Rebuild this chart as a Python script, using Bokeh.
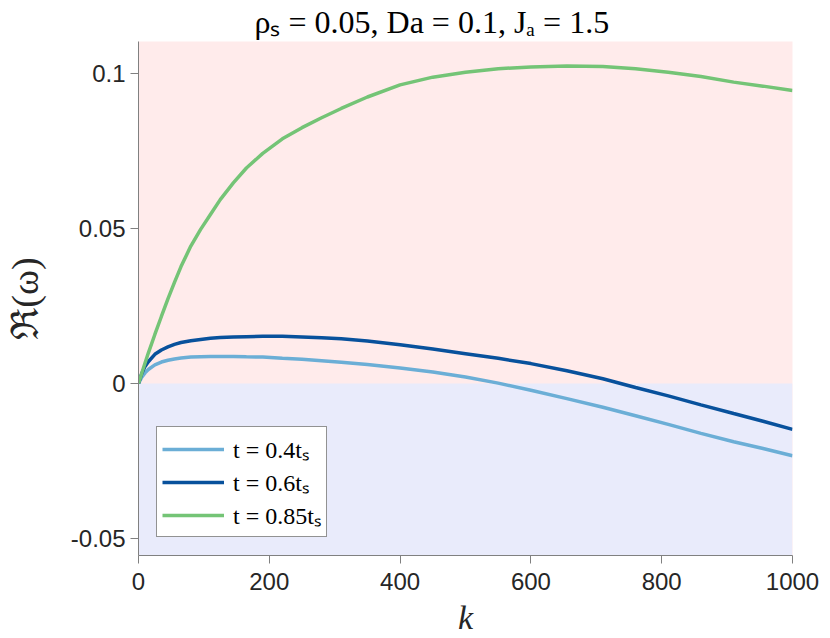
from bokeh.plotting import figure
from bokeh.models import BoxAnnotation, Legend, LegendItem, FixedTicker, Range1d
from bokeh.embed import file_html
from bokeh.resources import INLINE

# ---- data ----
k = [0, 5, 10, 15, 25, 35, 45, 55, 65, 80, 95, 110, 125, 145, 165, 190, 220, 250,
     280, 310, 350, 400, 450, 500, 550, 600, 655, 710, 760, 810, 860, 910, 955, 1000]
omega_t04 = [0, 0.0020, 0.0034, 0.0045, 0.0060, 0.0069, 0.0075, 0.0079, 0.0082, 0.0085,
             0.0086, 0.0087, 0.0087, 0.0087, 0.0086, 0.0085, 0.0081, 0.0078, 0.0073,
             0.0068, 0.0061, 0.0050, 0.0037, 0.0021, 0.0001, -0.0022, -0.0049, -0.0077,
             -0.0104, -0.0132, -0.0161, -0.0188, -0.0210, -0.0233]
omega_t06 = [0, 0.0032, 0.0055, 0.0070, 0.0094, 0.0108, 0.0118, 0.0126, 0.0132, 0.0138,
             0.0142, 0.0146, 0.0148, 0.0150, 0.0151, 0.0152, 0.0152, 0.0150, 0.0147,
             0.0144, 0.0137, 0.0125, 0.0111, 0.0096, 0.0081, 0.0064, 0.0041, 0.0015,
             -0.0013, -0.0040, -0.0069, -0.0097, -0.0122, -0.0148]
omega_t085 = [0, 0.0033, 0.0066, 0.0098, 0.0158, 0.0216, 0.0273, 0.0326, 0.0377, 0.0443,
              0.0497, 0.0545, 0.0593, 0.0647, 0.0695, 0.0742, 0.0789, 0.0825, 0.0857,
              0.0887, 0.0924, 0.0963, 0.0988, 0.1004, 0.1015, 0.1021, 0.1024, 0.1022,
              0.1015, 0.1004, 0.0990, 0.0972, 0.0959, 0.0945]
series_labels = ["t = 0.4tₛ", "t = 0.6tₛ", "t = 0.85tₛ"]
series_colors = ["#6BAED6", "#08519C", "#74C476"]
x_ticks = [0, 200, 400, 600, 800, 1000]
y_ticks = [-0.05, 0, 0.05, 0.1]
y_tick_labels = ["-0.05", "0", "0.05", "0.1"]
title_text = "ρₛ = 0.05, Da = 0.1, Jₐ = 1.5"

p = figure(width=830, height=638, output_backend="svg", toolbar_location=None,
           x_range=Range1d(0, 1000), y_range=Range1d(-0.0555, 0.1103),
           min_border_left=137, min_border_right=38, min_border_top=40,
           min_border_bottom=83, title=title_text)

p.background_fill_color = "#FFEBEB"
p.border_fill_color = "white"
p.outline_line_color = None
p.grid.visible = False
p.add_layout(BoxAnnotation(top=0, fill_color="#E9EBFB", fill_alpha=1.0, line_color=None,
                           level="underlay"))

p.title.text_font = "Liberation Serif"
p.title.text_font_size = "32px"
p.title.text_font_style = "normal"
p.title.text_color = "black"
p.title.align = "left"
p.title.offset = 116
p.title.standoff = 3

renderers = []
for vals, col in zip([omega_t04, omega_t06, omega_t085], series_colors):
    r = p.line(k, vals, line_color=col, line_width=3.5)
    renderers.append(r)

legend = Legend(items=[LegendItem(label=lab, renderers=[r]) for lab, r in zip(series_labels, renderers)],
                location=(18, 18))
legend.label_text_font = "Liberation Serif"
legend.label_text_font_size = "24px"
legend.label_text_color = "black"
legend.border_line_color = "#262626"
legend.border_line_width = 1
legend.background_fill_color = "white"
legend.background_fill_alpha = 1.0
legend.glyph_width = 62
legend.glyph_height = 30
legend.label_height = 30
legend.label_standoff = 9
legend.spacing = 0
legend.padding = 5
legend.margin = 0
p.add_layout(legend)

for ax in [p.xaxis[0], p.yaxis[0]]:
    ax.axis_line_color = "#808080"
    ax.major_tick_line_color = "#808080"
    ax.major_tick_out = 8
    ax.major_tick_in = 0
    ax.minor_tick_line_color = None
    ax.major_label_text_font = "Liberation Sans"
    ax.major_label_text_font_size = "24px"
    ax.major_label_text_color = "#262626"
    ax.axis_label_text_font = "Liberation Serif"
    ax.axis_label_text_color = "#262626"

p.xaxis.ticker = FixedTicker(ticks=x_ticks)
p.yaxis.ticker = FixedTicker(ticks=y_ticks)
p.yaxis.major_label_overrides = {t: s for t, s in zip(y_ticks, y_tick_labels)}
p.xaxis.major_label_standoff = 9
p.xaxis.axis_label = "k"
p.xaxis.axis_label_text_font_style = "italic"
p.xaxis.axis_label_text_font_size = "34px"
p.xaxis.axis_label_standoff = 6
p.yaxis.axis_label = "ℜ(ω)"
p.yaxis.axis_label_text_font_style = "normal"
p.yaxis.axis_label_text_font_size = "38px"
p.yaxis.axis_label_standoff = 22

open("out.html", "w").write(file_html(p, INLINE))
